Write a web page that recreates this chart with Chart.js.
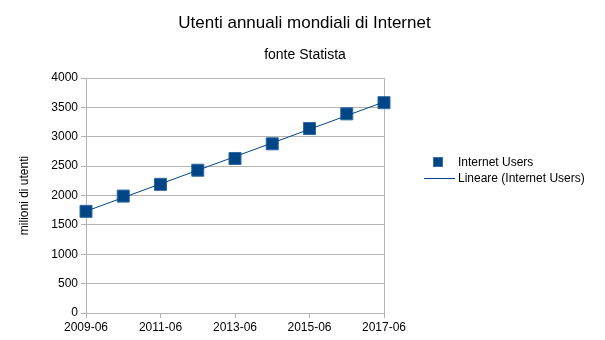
<!DOCTYPE html>
<html>
<head>
<meta charset="utf-8">
<script src="https://cdn.jsdelivr.net/npm/chart.js@4"></script>
<style>
  body { margin: 0; background: #fff; }
  #wrap { position: relative; width: 605px; height: 340px; font-family: "Liberation Sans", Arial, sans-serif; color: #000; }
  .head { position: absolute; left: 0; width: 605px; text-align: center; white-space: nowrap; }
  #title { top: 12px; font-size: 17px; line-height: 22px; padding-left: 4px; box-sizing: border-box; }
  #sub { top: 45px; font-size: 14px; line-height: 18px; padding-left: 5px; box-sizing: border-box; }
  #legend { position: absolute; left: 424px; top: 154px; font-size: 12px; }
  #legend .row { position: relative; height: 16px; line-height: 16px; padding-left: 34px; white-space: nowrap; }
  #legend .box { position: absolute; left: 9px; top: 3px; width: 8px; height: 8px; background: #004586; border: 1px solid #3a6fa3; }
  #legend .line { position: absolute; left: 0; top: 8px; width: 31px; height: 1px; background: #004586; }
</style>
</head>
<body>
<div id="wrap">
  <canvas id="myChart" width="605" height="340"></canvas>
  <div class="head" id="title">Utenti annuali mondiali di Internet</div>
  <div class="head" id="sub">fonte Statista</div>
  <div id="legend">
    <div class="row"><span class="box"></span>Internet Users</div>
    <div class="row"><span class="line"></span>Lineare (Internet Users)</div>
  </div>
</div>
<script>
var periods = ['2009-06', '2010-06', '2011-06', '2012-06', '2013-06', '2014-06', '2015-06', '2016-06', '2017-06'];
var users = [1730, 1990, 2190, 2430, 2630, 2880, 3140, 3390, 3580];

// linear trend (least squares) over the same points
function trend(vals) {
    var n = vals.length, sx = 0, sy = 0, sxy = 0, sxx = 0;
    for (var i = 0; i < n; i++) {
        sx += i; sy += vals[i]; sxy += i * vals[i]; sxx += i * i;
    }
    var b = (n * sxy - sx * sy) / (n * sxx - sx * sx);
    var a = (sy - b * sx) / n;
    return [{x: 0, y: a}, {x: n - 1, y: a + b * (n - 1)}];
}

var points = users.map(function (v, i) { return {x: i, y: v}; });

// right edge of the plot
var frame = {
    id: 'frame',
    beforeDatasetsDraw: function (chart) {
        var c = chart.ctx, a = chart.chartArea;
        c.save();
        c.strokeStyle = '#b3b3b3';
        c.lineWidth = 1;
        c.beginPath();
        c.moveTo(Math.round(a.right) + 0.5, a.top);
        c.lineTo(Math.round(a.right) + 0.5, a.bottom + 5);
        c.stroke();
        c.restore();
    }
};

Chart.defaults.font.family = '"Liberation Sans", Arial, sans-serif';
Chart.defaults.color = '#000';

const ctx = document.getElementById('myChart');
new Chart(ctx, {
    type: 'line',
    data: {
        datasets: [{
                label: 'Lineare (Internet Users)',
                data: trend(users),
                borderColor: '#004586',
                borderWidth: 1,
                pointRadius: 0,
                fill: false,
                clip: false
            }, {
                label: 'Internet Users',
                data: points,
                showLine: false,
                clip: false,
                pointStyle: 'rect',
                pointRadius: 8.5,
                pointBackgroundColor: '#004586',
                pointBorderColor: '#2f6aa3',
                pointBorderWidth: 1
            }]
    },
    options: {
        responsive: false,
        animation: false,
        layout: {padding: {left: 13, right: 221, top: 78, bottom: 4}},
        plugins: {
            legend: {display: false},
            tooltip: {enabled: false}
        },
        scales: {
            x: {
                type: 'linear',
                min: 0,
                max: periods.length - 1,
                afterFit: function (s) { s.height = 23; },
                grid: {drawOnChartArea: false, color: '#b3b3b3', tickLength: 5},
                border: {color: '#b3b3b3'},
                ticks: {
                    stepSize: 2,
                    padding: 2,
                    maxRotation: 0,
                    font: {size: 12},
                    callback: function (v) { return periods[v]; }
                }
            },
            y: {
                min: 0,
                max: 4000,
                afterFit: function (s) { s.width = 73; },
                title: {display: true, text: 'milioni di utenti', font: {size: 12}},
                grid: {color: '#b3b3b3', tickLength: 5},
                border: {color: '#b3b3b3'},
                ticks: {
                    stepSize: 500,
                    padding: 3,
                    font: {size: 12},
                    callback: function (v) { return String(v); }
                }
            }
        }
    },
    plugins: [frame]
});
</script>
</body>
</html>
